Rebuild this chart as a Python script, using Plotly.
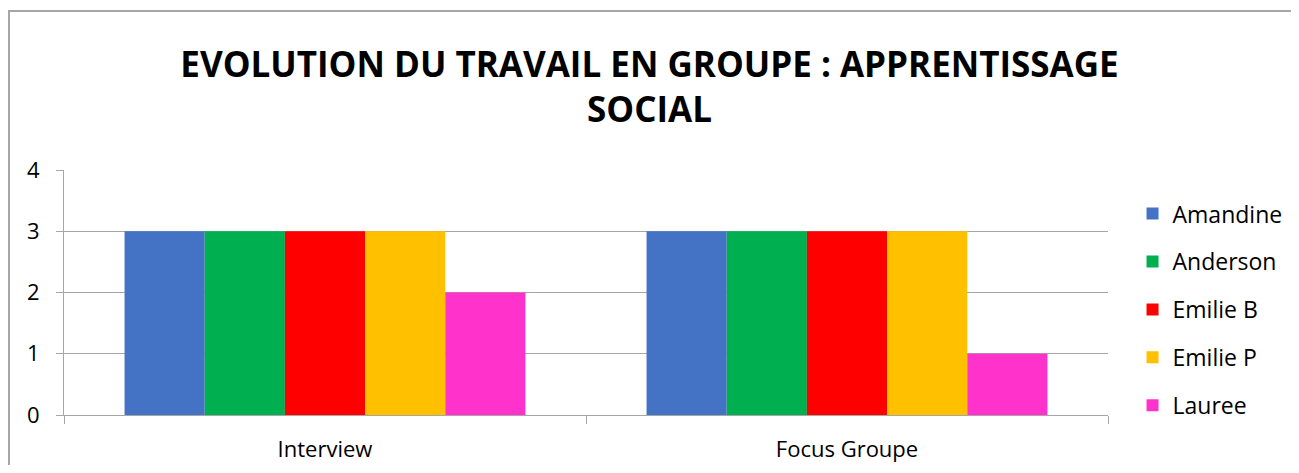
import plotly.graph_objects as go

categories = ["Interview", "Focus Groupe"]
series_names = ["Amandine", "Anderson", "Emilie B", "Emilie P", "Lauree"]
amandine = [3, 3]
anderson = [3, 3]
emilie_b = [3, 3]
emilie_p = [3, 3]
lauree = [2, 1]
colors = ["#4472C4", "#00B050", "#FF0000", "#FFC000", "#FF33CC"]
y_ticks = [0, 1, 2, 3, 4]

values = [amandine, anderson, emilie_b, emilie_p, lauree]

fig = go.Figure()
for i, (name, vals) in enumerate(zip(series_names, values)):
    fig.add_trace(go.Bar(x=categories, y=vals, name=name, marker_color=colors[i],
                         marker_line_width=0, legendgroup=name))

font_family = "Open Sans, Liberation Sans, sans-serif"
fig.update_layout(
    width=1283, height=457,
    margin=dict(l=56, r=183, t=162, b=50, autoexpand=False),
    paper_bgcolor="white", plot_bgcolor="white",
    barmode="group", bargap=0.232, bargroupgap=0,
    title=dict(text="<b>EVOLUTION DU TRAVAIL EN GROUPE : APPRENTISSAGE<br>SOCIAL</b>",
               x=0.5, xanchor="center", y=0.85, yanchor="middle",
               font=dict(family=font_family, size=35, color="#000000")),
    font=dict(family=font_family, size=22, color="#000000"),
    legend=dict(x=1.0235, xanchor="left", y=0.43, yanchor="middle",
                font=dict(size=23), tracegroupgap=15, itemwidth=30,
                bgcolor="rgba(0,0,0,0)"),
    showlegend=True,
)
fig.update_xaxes(showline=True, linecolor="#A6A6A6", linewidth=1, automargin=False,
                 ticks="outside", tickson="boundaries", ticklen=8, tickcolor="#A6A6A6",
                 showgrid=False, tickfont=dict(size=22), ticklabelstandoff=15)
fig.update_yaxes(range=[0, 4], tickvals=y_ticks, showline=True, linecolor="#A6A6A6",
                 linewidth=1, ticks="outside", ticklen=7, tickcolor="#A6A6A6", automargin=False,
                 showgrid=True, gridcolor="#A6A6A6", gridwidth=1, zeroline=False,
                 tickfont=dict(size=22), ticklabelstandoff=12)
fig.add_shape(type="rect", xref="paper", yref="paper",
              x0=-0.0527, x1=1.4, y0=-0.6, y1=1.649,
              line=dict(color="#A6A6A6", width=2), layer="below")
fig.write_html("out.html")
